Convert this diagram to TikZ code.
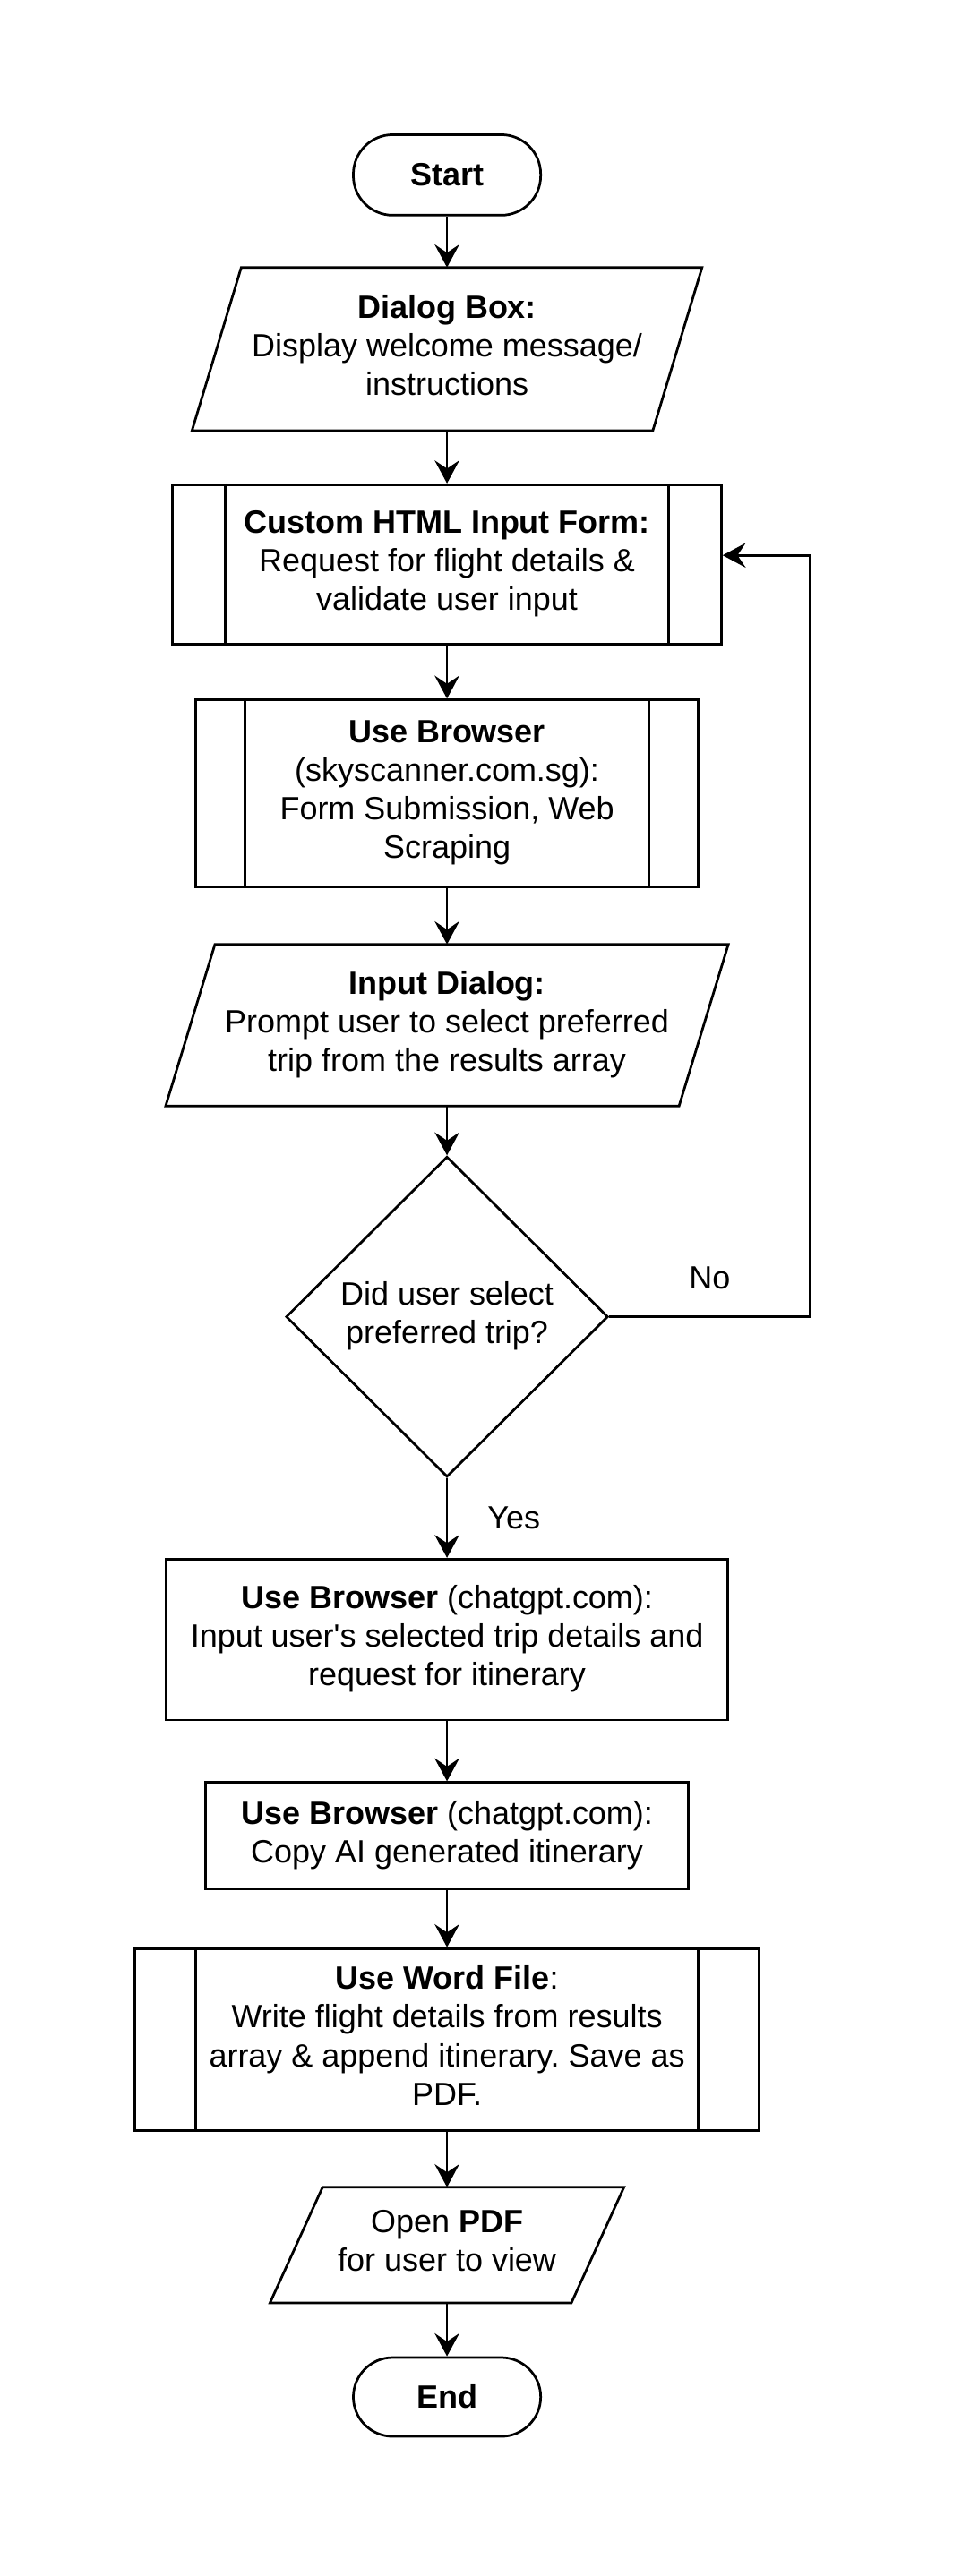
\documentclass[tikz,border=0pt]{standalone}
\usepackage{fontspec}
\setmainfont{Liberation Sans}
\usepackage{tikz}
\usetikzlibrary{shapes.geometric}
\usetikzlibrary{arrows.meta}
\newcommand{\linestrut}{\rule[-4.95pt]{0pt}{23.5pt}}
\newcommand{\inoutbox}[2]{\draw[outline] ([xshift=#2]#1.north west) -- ([xshift=#2]#1.north east)
  -- ([xshift=-#2]#1.south east) -- ([xshift=-#2]#1.south west) -- cycle;}
\newcommand{\subbars}[2]{\draw[outline] ([xshift=#2]#1.north west) -- ([xshift=#2]#1.south west);
  \draw[outline] ([xshift=-#2]#1.north east) -- ([xshift=-#2]#1.south east);}

\begin{document}
\begin{tikzpicture}[x=1pt,y=-1pt,
    outline/.style={line width=1.5pt},
    txt/.style={align=center, inner sep=0pt, font=\fontsize{19.6}{23.5}\selectfont,
        execute at begin node=\linestrut, execute at end node=\linestrut},
    terminal/.style={txt, draw, outline, rounded corners=24pt, minimum width=114pt, minimum height=49pt},
    box/.style={txt, draw, outline},
    flow/.style={line width=1.5pt, -{Stealth[length=14pt,width=15pt,inset=5pt]}}]
    \useasboundingbox (0,0) rectangle (590,1568);
    % Start and input
    \node[terminal] (start) at (272, 106.5) {\textbf{Start}};
    \node[txt, minimum width=280pt, minimum height=99pt] (dialog) at (272, 212.5)
        {\textbf{Dialog Box:}\\Display welcome message/\\instructions};
    \inoutbox{dialog}{15pt}
    % Form and scraping
    \node[box, minimum width=334pt, minimum height=97pt] (form) at (272, 343.5)
        {\textbf{Custom HTML Input Form:}\\Request for flight details \&\\validate user input};
    \subbars{form}{33pt}
    \node[box, minimum width=306pt, minimum height=114pt] (scrape) at (272, 483)
        {\textbf{Use Browser}\\(skyscanner.com.sg):\\Form Submission, Web\\Scraping};
    \subbars{scrape}{31pt}
    \node[txt, minimum width=312pt, minimum height=98pt] (pick) at (272, 624)
        {\textbf{Input Dialog:}\\Prompt user to select preferred\\trip from the results array};
    \inoutbox{pick}{15pt}
    % Decision
    \node[txt, draw, outline, diamond, minimum width=196pt, minimum height=195pt] (check) at (272, 801.5)
        {Did user select\\preferred trip?};
    \coordinate (back) at (493, 801.5);
    % Itinerary and output
    \node[box, minimum width=342pt, minimum height=98pt] (ask) at (272, 998)
        {\textbf{Use Browser} (chatgpt.com):\\Input user\textquotesingle s selected trip details and\\request for itinerary};
    \node[box, minimum width=294pt, minimum height=65pt] (copy) at (272, 1117.5)
        {\textbf{Use Browser} (chatgpt.com):\\Copy AI generated itinerary};
    \node[box, minimum width=380pt, minimum height=111pt] (word) at (272, 1241.5)
        {\textbf{Use Word File}:\\Write flight details from results\\array \& append itinerary.\ Save as\\PDF.};
    \subbars{word}{38pt}
    \node[txt, minimum width=183pt, minimum height=70pt] (pdf) at (272, 1366.5)
        {Open \textbf{PDF}\\for user to view};
    \inoutbox{pdf}{16pt}
    \node[terminal, minimum height=48pt] (finish) at (272, 1459) {\textbf{End}};
    %
    % Flow edges
    \draw[flow] (start) -- (dialog);
    \draw[flow] (dialog) -- (form);
    \draw[flow] (form) -- (scrape);
    \draw[flow] (scrape) -- (pick);
    \draw[flow] (pick) -- (check);
    \draw[flow] (check) -- node[txt, right=24pt] {Yes} (ask);
    \draw[line width=1.5pt] (check.east) -- node[txt, above=11pt] {No} (back);
    \draw[flow] (back) |- ([yshift=5.5pt]form.east);
    \draw[flow] (ask) -- (copy);
    \draw[flow] (copy) -- (word);
    \draw[flow] (word) -- (pdf);
    \draw[flow] (pdf) -- (finish);
\end{tikzpicture}
\end{document}
